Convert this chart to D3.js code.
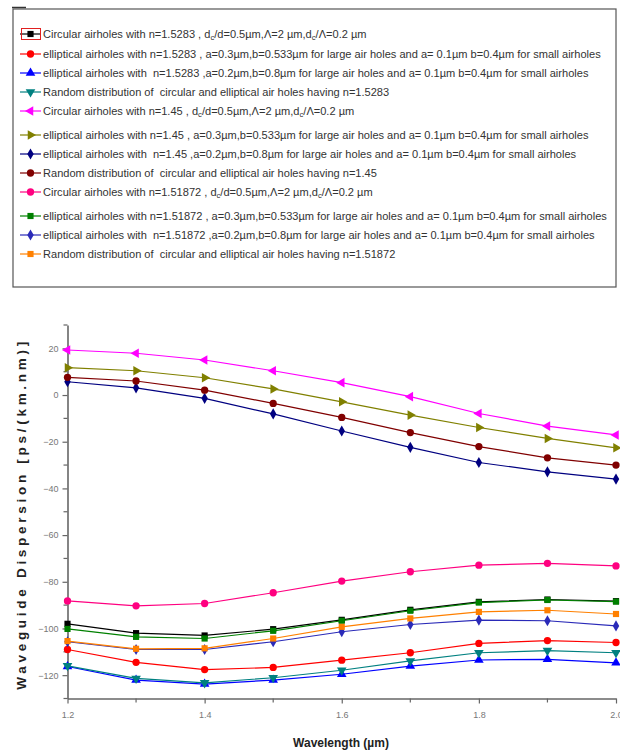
<!DOCTYPE html>
<html>
<head>
<meta charset="utf-8">
<script src="https://cdn.jsdelivr.net/npm/d3@7"></script>
<style>
  body { margin: 0; background: #fff; }
  svg text { white-space: pre; }
</style>
</head>
<body>
<div class="graph"></div>
<script>

// wavelength (um) on the x axis
var wavelength = [1.2, 1.3, 1.4, 1.5, 1.6, 1.7, 1.8, 1.9, 2.0];

// waveguide dispersion ps/(km.nm)
var circ15283 = [-98.0, -102.0, -103.0, -100.3, -96.3, -92.0, -88.6, -87.6, -88.3];
var ell03_15283 = [-109.0, -114.5, -117.6, -116.7, -113.6, -110.4, -106.4, -105.2, -106.0];
var ell02_15283 = [-116.3, -122.1, -123.8, -122.1, -119.6, -116.1, -113.5, -113.2, -114.7];
var rand15283 = [-116.0, -121.4, -123.3, -121.1, -117.9, -113.9, -110.4, -109.5, -110.4];
var circ145 = [19.3, 17.9, 15.0, 10.4, 5.3, -0.7, -7.9, -13.3, -17.1];
var ell03_145 = [11.7, 10.4, 7.4, 2.6, -2.9, -8.6, -13.9, -18.6, -22.6];
var ell02_145 = [5.7, 3.1, -1.4, -8.1, -15.4, -22.4, -28.9, -32.9, -36.0];
var rand145 = [7.6, 6.0, 2.1, -3.6, -9.6, -16.1, -22.1, -26.9, -30.0];
var circ151872 = [-88.2, -90.3, -89.3, -84.7, -79.7, -75.7, -72.9, -72.1, -73.2];
var ell03_151872 = [-100.2, -103.6, -104.3, -101.0, -96.7, -92.4, -88.9, -87.8, -88.5];
var ell02_151872 = [-105.7, -109.0, -109.0, -105.7, -101.4, -98.3, -96.4, -96.7, -98.9];
var rand151872 = [-105.4, -108.7, -108.5, -104.3, -99.3, -95.7, -92.9, -92.2, -93.8];

var yTicks = [20, 0, -20, -40, -60, -80, -100, -120];
var yMinor = [30, 10, -10, -30, -50, -70, -90, -110, -130];
var xTicks = [1.2, 1.4, 1.6, 1.8, 2.0];
var xMinor = [1.3, 1.5, 1.7, 1.9];

var labels = [
  "Circular airholes with n=1.5283 , d{c}/d=0.5\u00b5m,\u039b=2 \u00b5m,d{c}/\u039b=0.2 \u00b5m",
  "elliptical airholes with n=1.5283 , a=0.3\u00b5m,b=0.533\u00b5m for large air holes and a= 0.1\u00b5m b=0.4\u00b5m for small airholes",
  "elliptical airholes with  n=1.5283 ,a=0.2\u00b5m,b=0.8\u00b5m for large air holes and a= 0.1\u00b5m b=0.4\u00b5m for small airholes",
  "Random distribution of  circular and elliptical air holes having n=1.5283",
  "Circular airholes with n=1.45 , d{c}/d=0.5\u00b5m,\u039b=2 \u00b5m,d{c}/\u039b=0.2 \u00b5m",
  "elliptical airholes with n=1.45 , a=0.3\u00b5m,b=0.533\u00b5m for large air holes and a= 0.1\u00b5m b=0.4\u00b5m for small airholes",
  "elliptical airholes with  n=1.45 ,a=0.2\u00b5m,b=0.8\u00b5m for large air holes and a= 0.1\u00b5m b=0.4\u00b5m for small airholes",
  "Random distribution of  circular and elliptical air holes having n=1.45",
  "Circular airholes with n=1.51872 , d{c}/d=0.5\u00b5m,\u039b=2 \u00b5m,d{c}/\u039b=0.2 \u00b5m",
  "elliptical airholes with n=1.51872 , a=0.3\u00b5m,b=0.533\u00b5m for large air holes and a= 0.1\u00b5m b=0.4\u00b5m for small airholes",
  "elliptical airholes with  n=1.51872 ,a=0.2\u00b5m,b=0.8\u00b5m for large air holes and a= 0.1\u00b5m b=0.4\u00b5m for small airholes",
  "Random distribution of  circular and elliptical air holes having n=1.51872"
];

var COLORS = ['#000000', '#ff0000', '#0000ff', '#008080', '#ff00ff', '#808000',
  '#000080', '#800000', '#ff0080', '#008000', '#2a2ab8', '#ff8000'];
var SHAPES = ['square', 'circle', 'up', 'down', 'left', 'right',
  'diamond', 'circle', 'circle', 'square', 'diamond', 'square'];

var values = [circ15283, ell03_15283, ell02_15283, rand15283, circ145, ell03_145,
  ell02_145, rand145, circ151872, ell03_151872, ell02_151872, rand151872];

var W = 620, H = 754;

var svg = d3.select(".graph")
  .append("svg")
    .attr("width", W)
    .attr("height", H)
    .style("font-family", "'Liberation Sans', Arial, sans-serif");

// marker shapes
function marker(shape) {
  var t = d3.symbolSquare, rot = 0, size = 38;
  if (shape == 'circle') { t = d3.symbolCircle; size = 42; }
  if (shape == 'diamond') { t = d3.symbolDiamond; size = 36; }
  if (shape == 'up' || shape == 'down' || shape == 'left' || shape == 'right') {
    t = d3.symbolTriangle; size = 40;
    rot = {up: 0, down: 180, left: -90, right: 90}[shape];
  }
  return {d: d3.symbol().type(t).size(size)(), rot: rot};
}

// ---------- legend box ----------
var legTop = 9, legBottom = 287, legLeft = 13, legRight = 616;
svg.append("rect")
  .attr("x", legLeft).attr("y", legTop)
  .attr("width", legRight - legLeft).attr("height", legBottom - legTop)
  .attr("fill", "none").attr("stroke", "#555").attr("stroke-width", 1.2);
svg.append("line")
  .attr("x1", 12).attr("x2", 26).attr("y1", 7.5).attr("y2", 7.5)
  .attr("stroke", "#333").attr("stroke-width", 1.5);

var rowY = [34, 54, 73, 92, 111, 135, 154, 173, 192, 216, 235, 254];

var legend = svg.selectAll(".legend")
  .data(labels)
  .enter()
  .append("g")
    .attr("class", "legend")
    .attr("transform", function(d, i) { return "translate(0," + rowY[i] + ")"; });

legend.append("line")
  .attr("x1", 20).attr("x2", 41)
  .attr("stroke", function(d, i) { return COLORS[i]; })
  .attr("stroke-width", 1.2);

legend.append("path")
  .attr("d", function(d, i) { return marker(SHAPES[i]).d; })
  .attr("transform", function(d, i) { return "translate(30.5,0) rotate(" + marker(SHAPES[i]).rot + ")"; })
  .attr("fill", function(d, i) { return COLORS[i]; });

var texts = legend.append("text")
  .attr("x", 0)
  .attr("y", 4)
  .attr("font-size", 11.5)
  .attr("fill", "#333");

texts.each(function(d) {
  var el = d3.select(this);
  var parts = d.split(/\{c\}/);
  for (var k = 0; k < parts.length; k++) {
    if (k > 0) {
      el.append("tspan").attr("font-size", 8).attr("dy", 2).text("c");
      el.append("tspan").attr("dy", -2).text(parts[k]);
    } else {
      el.append("tspan").text(parts[k]);
    }
  }
});

// squeeze the legend text like the narrow font of the original
var widest = 0;
texts.each(function() { widest = Math.max(widest, this.getComputedTextLength()); });
var sx = (608 - 43) / widest;
texts.attr("transform", "translate(43,0) scale(" + sx + ",1)");

// red selection box around the first legend symbol
svg.append("rect")
  .attr("x", 21.5).attr("y", 28.5).attr("width", 19).attr("height", 11)
  .attr("fill", "none").attr("stroke", "#e02020").attr("stroke-width", 1);

// ---------- plot ----------
var x = d3.scaleLinear().domain([1.2, 2.0]).range([67.5, 616]);
var y = d3.scaleLinear().domain([-130, 30]).range([698.5, 325]);

var axisColor = "#666";

var gx = svg.append("g")
  .attr("transform", "translate(0," + y(-130) + ")")
  .call(d3.axisBottom(x).tickValues(xTicks).tickSize(5).tickSizeOuter(0)
    .tickFormat(d3.format(".1f")));
gx.append("g").selectAll("line").data(xMinor).enter().append("line")
  .attr("x1", function(d) { return x(d); }).attr("x2", function(d) { return x(d); })
  .attr("y1", 0).attr("y2", 4);

var gy = svg.append("g")
  .attr("transform", "translate(" + x(1.2) + ",0)")
  .call(d3.axisLeft(y).tickValues(yTicks).tickSize(5).tickSizeOuter(0)
    .tickFormat(d3.format("d")));
gy.append("g").selectAll("line").data(yMinor).enter().append("line")
  .attr("y1", function(d) { return y(d); }).attr("y2", function(d) { return y(d); })
  .attr("x1", 0).attr("x2", -4);

[gx, gy].forEach(function(g) {
  g.select(".domain").attr("stroke", axisColor).attr("stroke-width", 1.6);
  g.selectAll("line").attr("stroke", axisColor).attr("stroke-width", 1.2);
  g.selectAll("text").attr("fill", "#777").attr("font-size", 9)
    .style("font-family", "'Liberation Sans', Arial, sans-serif");
});
gx.selectAll(".tick text").attr("dy", "1.3em");
gy.selectAll(".tick text").attr("x", -9);

var line = d3.line()
  .x(function(d, i) { return x(wavelength[i]); })
  .y(function(d) { return y(d); });

for (var i = 0; i < values.length; i++) {
  svg.append("path")
    .datum(values[i])
    .attr("fill", "none")
    .attr("stroke", COLORS[i])
    .attr("stroke-width", 1.2)
    .attr("d", line);

  var m = marker(SHAPES[i]);
  svg.append("g").selectAll("path")
    .data(values[i])
    .enter()
    .append("path")
      .attr("d", m.d)
      .attr("fill", COLORS[i])
      .attr("transform", function(d, j) {
        return "translate(" + x(wavelength[j]) + "," + y(d) + ") rotate(" + m.rot + ")";
      });
}

// axis titles
svg.append("text")
  .attr("transform", "translate(26," + ((y(30) + y(-130)) / 2 + 4) + ") rotate(-90)")
  .attr("text-anchor", "middle")
  .attr("font-size", 13.5)
  .attr("font-weight", "bold")
  .attr("fill", "#222")
  .attr("textLength", 348)
  .attr("lengthAdjust", "spacing")
  .text("Waveguide Dispersion [ps/(km.nm)]");

svg.append("text")
  .attr("x", 341)
  .attr("y", 747)
  .attr("text-anchor", "middle")
  .attr("font-size", 12)
  .attr("font-weight", "bold")
  .attr("fill", "#222")
  .text("Wavelength (\u00b5m)");

</script>
</body>
</html>
